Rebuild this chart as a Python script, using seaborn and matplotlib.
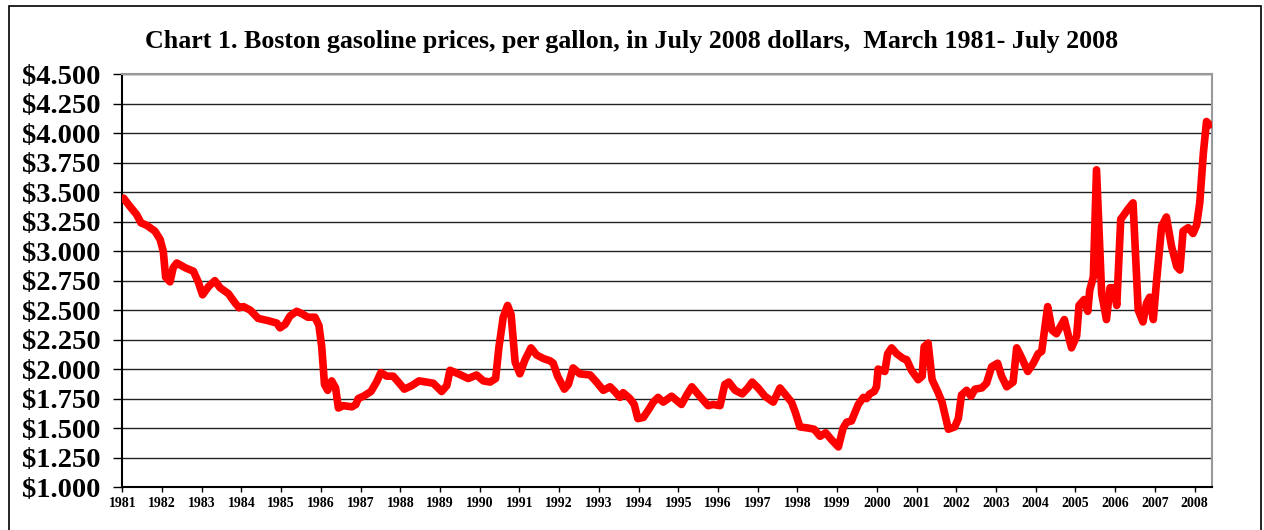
import numpy as np
import pandas as pd
import matplotlib
matplotlib.use("Agg")
import matplotlib.pyplot as plt
import seaborn as sns
from matplotlib.patches import Rectangle

# Boston gasoline price, July 2008 dollars
year = [1981.03, 1981.19, 1981.36, 1981.47, 1981.61, 1981.82, 1981.95, 1982.03, 1982.09, 1982.20,
        1982.28, 1982.37, 1982.58, 1982.79, 1982.91, 1983.02, 1983.17, 1983.33, 1983.46, 1983.67,
        1983.84, 1983.94, 1984.05, 1984.22, 1984.42, 1984.68, 1984.89, 1984.97, 1985.10, 1985.22,
        1985.39, 1985.52, 1985.67, 1985.85, 1985.95, 1986.02, 1986.09, 1986.17, 1986.27, 1986.37,
        1986.44, 1986.56, 1986.78, 1986.88, 1986.94, 1987.07, 1987.26, 1987.40, 1987.51, 1987.66,
        1987.82, 1987.95, 1988.10, 1988.29, 1988.47, 1988.66, 1988.83, 1989.04, 1989.17, 1989.25,
        1989.46, 1989.71, 1989.92, 1990.09, 1990.26, 1990.40, 1990.48, 1990.59, 1990.70, 1990.79,
        1990.89, 1991.01, 1991.14, 1991.29, 1991.43, 1991.60, 1991.77, 1991.85, 1991.96, 1992.13,
        1992.23, 1992.35, 1992.52, 1992.78, 1992.94, 1993.11, 1993.28, 1993.40, 1993.53, 1993.61,
        1993.78, 1993.89, 1993.98, 1994.12, 1994.24, 1994.37, 1994.49, 1994.62, 1994.83, 1995.08,
        1995.21, 1995.34, 1995.59, 1995.75, 1995.88, 1996.05, 1996.17, 1996.27, 1996.43, 1996.61,
        1996.75, 1996.86, 1997.01, 1997.18, 1997.39, 1997.56, 1997.73, 1997.85, 1997.95, 1998.06,
        1998.27, 1998.42, 1998.57, 1998.71, 1998.86, 1999.03, 1999.15, 1999.24, 1999.36, 1999.53,
        1999.66, 1999.74, 1999.82, 1999.93, 1999.99, 2000.03, 2000.20, 2000.27, 2000.37, 2000.50,
        2000.66, 2000.75, 2000.87, 2001.04, 2001.14, 2001.19, 2001.29, 2001.39, 2001.53, 2001.64,
        2001.80, 2001.96, 2002.05, 2002.13, 2002.26, 2002.37, 2002.47, 2002.64, 2002.76, 2002.89,
        2003.04, 2003.14, 2003.27, 2003.43, 2003.52, 2003.64, 2003.80, 2003.94, 2004.06, 2004.15,
        2004.21, 2004.30, 2004.41, 2004.52, 2004.72, 2004.90, 2005.03, 2005.09, 2005.22, 2005.31,
        2005.36, 2005.45, 2005.53, 2005.66, 2005.78, 2005.87, 2005.97, 2006.04, 2006.14, 2006.33,
        2006.45, 2006.58, 2006.70, 2006.79, 2006.87, 2006.96, 2007.04, 2007.17, 2007.29, 2007.42,
        2007.55, 2007.63, 2007.71, 2007.84, 2007.96, 2008.05, 2008.13, 2008.22, 2008.30, 2008.38]

price = [3.45, 3.38, 3.31, 3.24, 3.22, 3.17, 3.10, 3.00, 2.78, 2.74,
         2.86, 2.90, 2.86, 2.83, 2.74, 2.63, 2.70, 2.75, 2.69, 2.64,
         2.56, 2.52, 2.53, 2.50, 2.43, 2.41, 2.39, 2.35, 2.38, 2.45,
         2.49, 2.47, 2.44, 2.44, 2.37, 2.19, 1.87, 1.82, 1.90, 1.84,
         1.67, 1.69, 1.68, 1.70, 1.75, 1.77, 1.81, 1.89, 1.97, 1.94,
         1.94, 1.89, 1.83, 1.86, 1.90, 1.89, 1.88, 1.81, 1.86, 1.99,
         1.96, 1.92, 1.95, 1.90, 1.89, 1.92, 2.18, 2.44, 2.54, 2.46,
         2.06, 1.96, 2.08, 2.18, 2.12, 2.09, 2.07, 2.05, 1.94, 1.83,
         1.87, 2.01, 1.96, 1.95, 1.89, 1.82, 1.85, 1.81, 1.76, 1.80,
         1.75, 1.70, 1.58, 1.59, 1.65, 1.72, 1.76, 1.72, 1.77, 1.70,
         1.78, 1.85, 1.75, 1.69, 1.70, 1.69, 1.87, 1.89, 1.82, 1.79,
         1.84, 1.89, 1.84, 1.77, 1.72, 1.84, 1.77, 1.72, 1.63, 1.51,
         1.50, 1.49, 1.43, 1.46, 1.40, 1.34, 1.50, 1.55, 1.56, 1.70,
         1.76, 1.75, 1.79, 1.81, 1.85, 2.00, 1.98, 2.13, 2.18, 2.13,
         2.09, 2.08, 1.99, 1.91, 1.94, 2.19, 2.22, 1.91, 1.81, 1.72,
         1.49, 1.51, 1.58, 1.78, 1.82, 1.77, 1.83, 1.84, 1.88, 2.02,
         2.05, 1.94, 1.85, 1.89, 2.18, 2.10, 1.98, 2.05, 2.13, 2.15,
         2.30, 2.53, 2.33, 2.30, 2.42, 2.18, 2.28, 2.54, 2.59, 2.49,
         2.67, 2.78, 3.69, 2.64, 2.42, 2.69, 2.69, 2.54, 3.27, 3.36,
         3.41, 2.50, 2.40, 2.56, 2.61, 2.42, 2.74, 3.21, 3.29, 3.04,
         2.87, 2.84, 3.17, 3.20, 3.15, 3.22, 3.41, 3.83, 4.10, 4.07]

year_ticks = list(range(1981, 2009))
price_ticks = [1.0, 1.25, 1.5, 1.75, 2.0, 2.25, 2.5, 2.75, 3.0, 3.25, 3.5, 3.75, 4.0, 4.25, 4.5]

title = "Chart 1. Boston gasoline prices, per gallon, in July 2008 dollars,  March 1981- July 2008"

df = pd.DataFrame({"year": year, "price": price})

sns.set_style("white")
plt.rcParams["font.family"] = ["Liberation Serif", "DejaVu Serif"]
plt.rcParams["font.weight"] = "bold"
plt.rcParams["text.color"] = "black"
plt.rcParams["xtick.color"] = "black"
plt.rcParams["ytick.color"] = "black"

fig = plt.figure(figsize=(12.64, 5.30), dpi=100)
ax = fig.add_axes([0.0968, 0.0811, 0.8618, 0.7787])

# outer chart frame
fig.patches.append(Rectangle((0.007, -0.01), 0.9905, 0.999, transform=fig.transFigure,
                             fill=False, edgecolor="black", linewidth=1.2))

for p in price_ticks:
    ax.axhline(p, color="#222222", linewidth=1.0, zorder=1)

sns.lineplot(data=df, x="year", y="price", ax=ax, color="#ff0000", linewidth=5.5,
             solid_joinstyle="round", solid_capstyle="round", zorder=3)

ax.set_xlim(1981.0, 2008.43)
ax.set_ylim(1.0, 4.5)
ax.set_xticks(year_ticks)
ax.set_xticklabels([str(y) for y in year_ticks], fontsize=10, fontweight="bold")
ax.set_yticks(price_ticks)
ax.set_yticklabels(["${:.3f}".format(p) for p in price_ticks], fontsize=20.5, fontweight="bold")
ax.set_xlabel("")
ax.set_ylabel("")

ax.tick_params(axis="y", direction="out", length=6.5, width=1, pad=9, color="black", left=True)
ax.tick_params(axis="x", direction="out", length=3.6, width=1, pad=3.5, color="black", bottom=True)

ax.spines["left"].set_color("black")
ax.spines["bottom"].set_color("black")
ax.spines["top"].set_color("#999999")
ax.spines["right"].set_color("#999999")
for s in ax.spines.values():
    s.set_linewidth(1.5)

fig.text(0.5, 0.922, title, ha="center", va="center", fontsize=18.7, fontweight="bold")

fig.savefig("out.png", dpi=100)
